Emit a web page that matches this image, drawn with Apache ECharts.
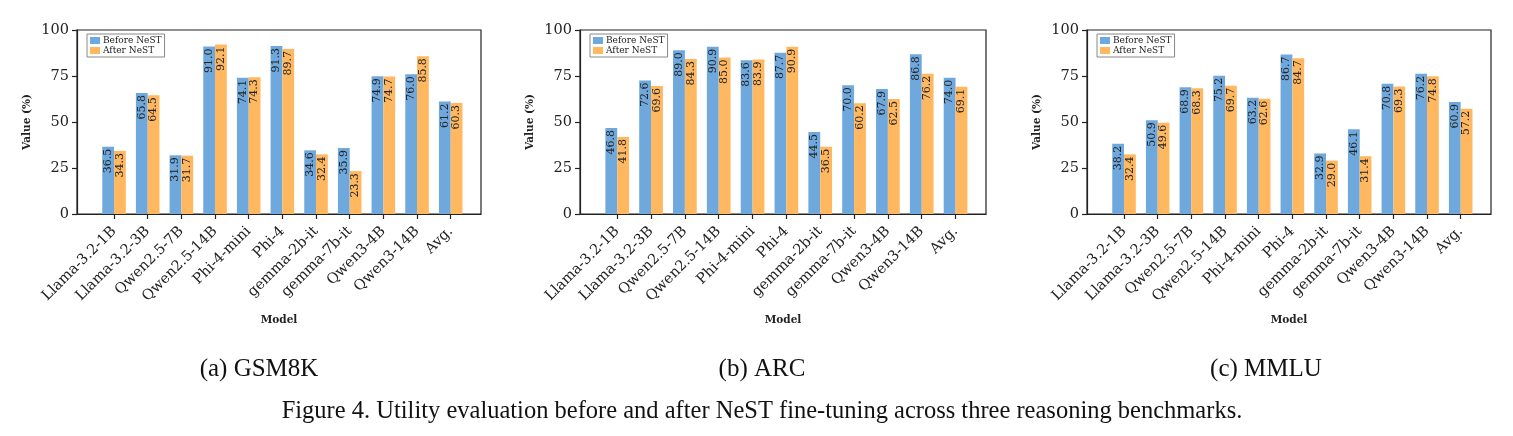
<!DOCTYPE html>
<html>
<head>
<meta charset="utf-8">
<script src="https://cdn.jsdelivr.net/npm/echarts@6/dist/echarts.min.js"></script>
<style>
  html, body { margin: 0; padding: 0; background: #fff; }
  #chart { width: 1513px; height: 436px; }
</style>
</head>
<body>
<div id="chart"></div>
<script>
// models on the x axis, same for all three panels
var models = ['Llama-3.2-1B', 'Llama-3.2-3B', 'Qwen2.5-7B', 'Qwen2.5-14B', 'Phi-4-mini', 'Phi-4',
              'gemma-2b-it', 'gemma-7b-it', 'Qwen3-4B', 'Qwen3-14B', 'Avg.'];

var gsmBefore  = [36.5, 65.8, 31.9, 91.0, 74.1, 91.3, 34.6, 35.9, 74.9, 76.0, 61.2];
var gsmAfter   = [34.3, 64.5, 31.7, 92.1, 74.3, 89.7, 32.4, 23.3, 74.7, 85.8, 60.3];
var arcBefore  = [46.8, 72.6, 89.0, 90.9, 83.6, 87.7, 44.5, 70.0, 67.9, 86.8, 74.0];
var arcAfter   = [41.8, 69.6, 84.3, 85.0, 83.9, 90.9, 36.5, 60.2, 62.5, 76.2, 69.1];
var mmluBefore = [38.2, 50.9, 68.9, 75.2, 63.2, 86.7, 32.9, 46.1, 70.8, 76.2, 60.9];
var mmluAfter  = [32.4, 49.6, 68.3, 69.7, 62.6, 84.7, 29.0, 31.4, 69.3, 74.8, 57.2];

var subCaptions = ['(a) GSM8K', '(b) ARC', '(c) MMLU'];
var figCaption = 'Figure 4. Utility evaluation before and after NeST fine-tuning across three reasoning benchmarks.';

var panels = [
    { before: gsmBefore, after: gsmAfter, left: 77, width: 404, cap: 254 },
    { before: arcBefore, after: arcAfter, left: 580, width: 406, cap: 757 },
    { before: mmluBefore, after: mmluAfter, left: 1087, width: 404, cap: 1261 }
];

var blue = '#6fa8dc';
var orange = '#ffb760';
var ink = '#222';
var serif = 'DejaVu Serif';

var chart = echarts.init(document.getElementById('chart'));

var grids = [], xAxes = [], yAxes = [], series = [], legends = [], titles = [];
var idx = models.map(function (m, i) { return i; });

function barLabel() {
    return {
        show: true,
        position: 'insideTop',
        rotate: 90,
        align: 'right',
        verticalAlign: 'middle',
        distance: 2,
        fontFamily: serif,
        fontSize: 11,
        color: ink,
        formatter: function (p) { return p.value[1].toFixed(1); }
    };
}

panels.forEach(function (p, k) {
    grids.push({
        left: p.left, top: 30, width: p.width, height: 184,
        show: true, borderColor: ink, borderWidth: 1.2, backgroundColor: 'transparent'
    });
    xAxes.push({
        type: 'value', gridIndex: k, min: -1.1, max: 10.9,
        name: 'Model', nameLocation: 'middle', nameGap: 101,
        nameTextStyle: { fontFamily: serif, fontWeight: 'bold', fontSize: 10.5, color: ink },
        splitLine: { show: false },
        axisLine: { show: true, onZero: false, lineStyle: { color: ink, width: 1.2 } },
        axisTick: { show: true, length: 5, customValues: idx, lineStyle: { color: ink, width: 1.2 } },
        axisLabel: {
            customValues: idx, rotate: 45, margin: 15,
            fontFamily: serif, fontSize: 14.5, color: ink,
            formatter: function (v) { return models[Math.round(v)]; }
        }
    });
    yAxes.push({
        type: 'value', gridIndex: k, min: 0, max: 100, interval: 25,
        name: 'Value (%)', nameLocation: 'middle', nameGap: 44,
        nameTextStyle: { fontFamily: serif, fontWeight: 'bold', fontSize: 10.5, color: ink },
        splitLine: { show: false },
        axisLine: { show: true, onZero: false, lineStyle: { color: ink, width: 1.2 } },
        axisTick: { show: true, length: 5, lineStyle: { color: ink, width: 1.2 } },
        axisLabel: { margin: 8, fontFamily: serif, fontSize: 14.5, color: ink }
    });
    series.push({
        name: 'Before NeST', type: 'bar', xAxisIndex: k, yAxisIndex: k,
        barWidth: '35%', barGap: '0%',
        itemStyle: { color: blue },
        label: barLabel(),
        data: p.before.map(function (v, i) { return [i, v]; })
    });
    series.push({
        name: 'After NeST', type: 'bar', xAxisIndex: k, yAxisIndex: k,
        barWidth: '35%', barGap: '0%',
        itemStyle: { color: orange },
        label: barLabel(),
        data: p.after.map(function (v, i) { return [i, v]; })
    });
    legends.push({
        left: p.left + 10, top: 34, orient: 'vertical',
        data: ['Before NeST', 'After NeST'],
        seriesIndex: [2 * k, 2 * k + 1],
        icon: 'rect', itemWidth: 10, itemHeight: 7, itemGap: 1,
        padding: [2, 3, 2, 3],
        borderColor: '#888', borderWidth: 1, backgroundColor: '#fff',
        selectedMode: false,
        textStyle: { fontFamily: serif, fontSize: 9, color: ink, padding: [0, 0, 0, -2] }
    });
    titles.push({
        text: subCaptions[k], left: p.cap, top: 352, textAlign: 'center',
        textStyle: { fontFamily: 'Liberation Serif', fontWeight: 'normal', fontSize: 25, color: '#111' }
    });
});

titles.push({
    text: figCaption, left: 757, top: 394, textAlign: 'center',
    textStyle: { fontFamily: 'Liberation Serif', fontWeight: 'normal', fontSize: 24.5, color: '#111' }
});

chart.setOption({
    animation: false,
    backgroundColor: '#fff',
    title: titles,
    legend: legends,
    grid: grids,
    xAxis: xAxes,
    yAxis: yAxes,
    series: series
});
</script>
</body>
</html>
